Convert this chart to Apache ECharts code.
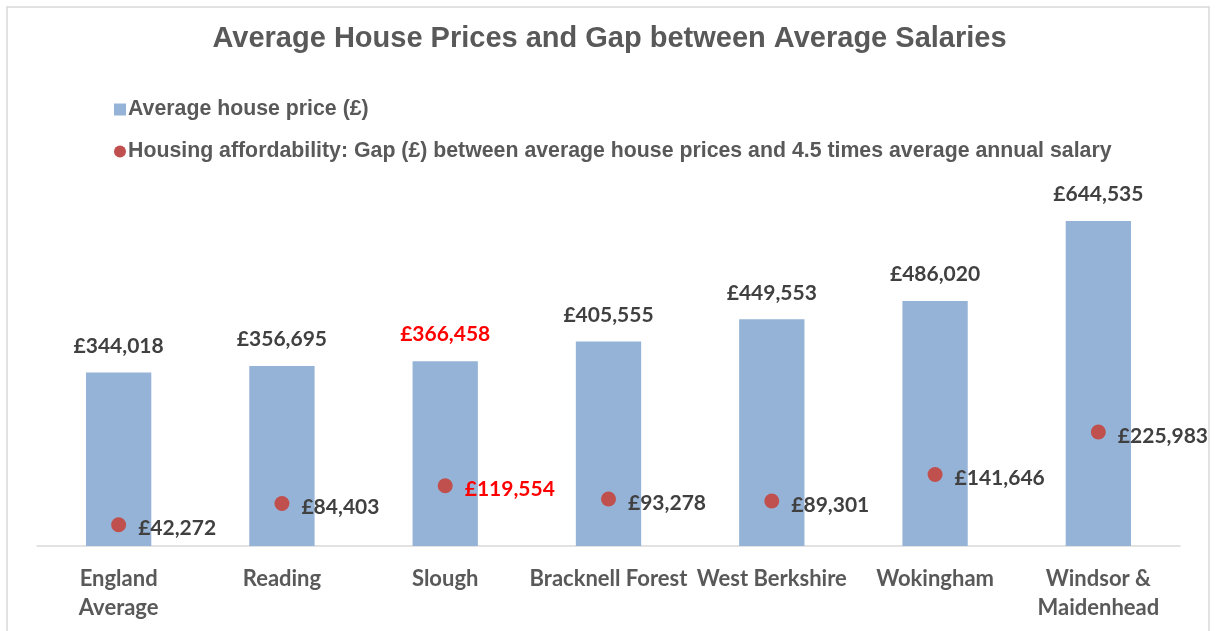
<!DOCTYPE html>
<html>
<head>
<meta charset="utf-8">
<script src="https://cdn.jsdelivr.net/npm/echarts@6/dist/echarts.min.js"></script>
<style>
  html, body { margin: 0; padding: 0; background: #fff; }
  #chart { width: 1219px; height: 631px; }
</style>
</head>
<body>
<div id="chart"></div>
<script>
  // areas on the x axis
  var areas = ['England\nAverage', 'Reading', 'Slough', 'Bracknell Forest', 'West Berkshire', 'Wokingham', 'Windsor &\nMaidenhead']
  // average house price (£)
  var housePrice = [344018, 356695, 366458, 405555, 449553, 486020, 644535]
  // gap between house price and 4.5x salary (£)
  var affordGap = [42272, 84403, 119554, 93278, 89301, 141646, 225983]
  var highlight = 'Slough' // shown in red

  var labelColor = '#404040'
  var fmt = function (v) { return '£' + v.toLocaleString('en-GB') }

  var myChart = echarts.init(document.getElementById('chart'))
  myChart.setOption({
    animation: false,
    title: {
      text: 'Average House Prices and Gap between Average Salaries',
      left: 'center',
      top: 19,
      textStyle: { fontFamily: 'Liberation Sans', fontSize: 29, fontWeight: 'bold', color: '#595959' }
    },
    legend: {
      orient: 'vertical',
      left: 109,
      top: 94,
      itemGap: 21,
      itemWidth: 12,
      itemHeight: 12,
      textStyle: { fontFamily: 'Liberation Sans', fontSize: 21.3, fontWeight: 'bold', color: '#595959', padding: [0, 0, 0, -3] },
      data: [
        { name: 'Average house price (£)', icon: 'rect' },
        { name: 'Housing affordability: Gap (£) between average house prices and 4.5 times average annual salary', icon: 'circle' }
      ]
    },
    graphic: [{
      type: 'rect',
      shape: { x: 7, y: 7, width: 1202, height: 640 },
      style: { fill: 'none', stroke: '#d9d9d9', lineWidth: 1.5 },
      z: -1
    }],
    grid: { left: 37, right: 39, top: 193, bottom: 85 },
    xAxis: {
      type: 'category',
      data: areas,
      axisLine: { lineStyle: { color: '#d9d9d9', width: 1.5 } },
      axisTick: { show: false },
      axisLabel: {
        interval: 0,
        margin: 18,
        lineHeight: 29,
        fontFamily: 'Lato',
        fontSize: 22,
        fontWeight: 'bold',
        color: '#595959'
      }
    },
    yAxis: {
      type: 'value',
      min: 0,
      max: 700000,
      show: false,
      splitLine: { show: false }
    },
    series: [{
      name: 'Average house price (£)',
      type: 'bar',
      barWidth: '40%',
      itemStyle: { color: '#95b3d7' },
      label: {
        show: true,
        position: 'top',
        distance: 16,
        fontFamily: 'Lato',
        fontSize: 21,
        fontWeight: 'bold',
        color: labelColor,
        formatter: function (p) { return fmt(p.value) }
      },
      data: housePrice.map(function (v, i) {
        var d = { value: v }
        if (areas[i] === highlight) d.label = { color: '#ff0000' }
        return d
      }),
      z: 2
    }, {
      name: 'Housing affordability: Gap (£) between average house prices and 4.5 times average annual salary',
      type: 'scatter',
      symbol: 'circle',
      symbolSize: 15,
      itemStyle: { color: '#c0504d', opacity: 1 },
      label: {
        show: true,
        position: 'right',
        distance: 12,
        offset: [0, 4],
        fontFamily: 'Lato',
        fontSize: 21,
        fontWeight: 'bold',
        color: labelColor,
        formatter: function (p) { return fmt(p.value) }
      },
      data: affordGap.map(function (v, i) {
        var d = { value: v }
        if (areas[i] === highlight) d.label = { color: '#ff0000' }
        return d
      }),
      z: 3
    }]
  })
</script>
</body>
</html>
